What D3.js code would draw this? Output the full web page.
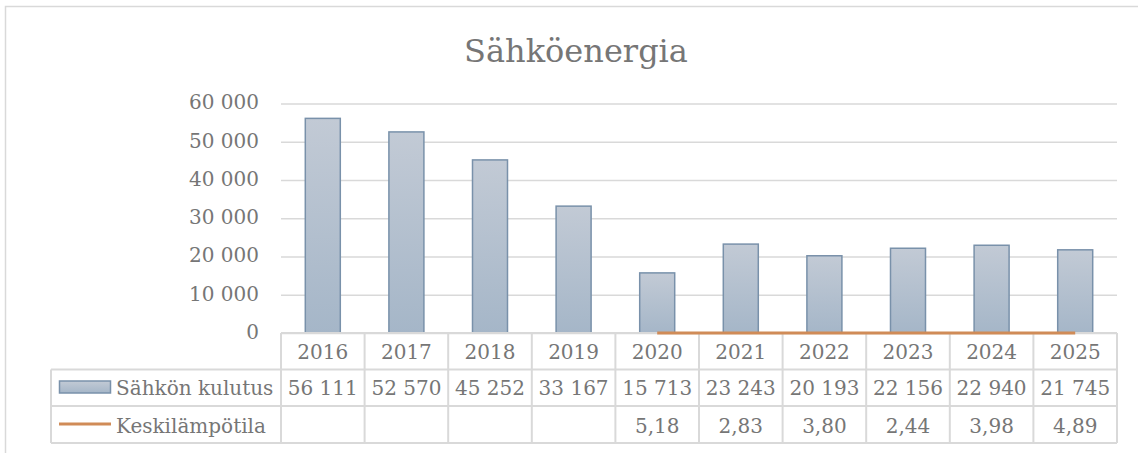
<!DOCTYPE html>
<html><head><meta charset="utf-8">
<script src="https://cdn.jsdelivr.net/npm/d3@7"></script>
<style>
html,body{margin:0;padding:0;background:#fff;}
svg{display:block;}
text{font-family:"DejaVu Serif",serif;fill:#767676;}
</style></head>
<body><svg id="c" width="1138" height="453"></svg>
<script>
const years = ["2016","2017","2018","2019","2020","2021","2022","2023","2024","2025"];
const consumption = [56111,52570,45252,33167,15713,23243,20193,22156,22940,21745];
const temperature = [null,null,null,null,5.18,2.83,3.80,2.44,3.98,4.89];
const yTicks = [0,10000,20000,30000,40000,50000,60000];
const seriesNames = ["Sähkön kulutus","Keskilämpötila"];
const title = "Sähköenergia";

(function(){
const loc = d3.formatLocale({decimal:",",thousands:"\u00a0",grouping:[3],currency:["","€"]});
const fmtInt = loc.format(",d");
const fmtDec = loc.format(".2f");

const svg = d3.select("#c");
const pL=281,pR=1117,pT=103.5,pB=333;
const rowY=[333,369.5,406,443];
const legLeft=51;
const grid="#d9d9d9";

svg.append("rect").attr("x",5.5).attr("y",6.5).attr("width",1140).attr("height",460)
  .attr("fill","none").attr("stroke",grid).attr("stroke-width",1.5);

const x = d3.scaleBand().domain(years).range([pL,pR]).paddingInner(0).paddingOuter(0);
const y = d3.scaleLinear().domain([0,60000]).range([pB,pT]);

const defs = svg.append("defs");
const g1 = defs.append("linearGradient").attr("id","bg").attr("x1",0).attr("y1",0).attr("x2",0).attr("y2",1);
g1.append("stop").attr("offset","0%").attr("stop-color","#c2cad5");
g1.append("stop").attr("offset","100%").attr("stop-color","#a5b6c8");

svg.append("text").attr("x",576).attr("y",62).attr("text-anchor","middle")
  .style("font-size","32px").text(title);

const yAxis = d3.axisLeft(y).tickValues(yTicks).tickSize(-(pR-pL)).tickFormat(d=>fmtInt(d)).tickPadding(22);
const ga = svg.append("g").attr("transform",`translate(${pL},0)`).call(yAxis);
ga.select(".domain").remove();
ga.selectAll(".tick line").attr("stroke",grid).attr("stroke-width",1.5);
ga.selectAll(".tick text").style("font-size","20px").attr("fill","#767676").style("font-family","DejaVu Serif").attr("dy","0.27em");

const bw = 35;
svg.append("g").selectAll("rect").data(consumption).join("rect")
  .attr("x",(d,i)=>x(years[i])+x.bandwidth()/2-bw/2)
  .attr("y",d=>y(d))
  .attr("width",bw)
  .attr("height",d=>y(0)-y(d))
  .attr("fill","url(#bg)").attr("stroke","#7991aa").attr("stroke-width",1.5);

const tg = svg.append("g").attr("stroke",grid).attr("stroke-width",2).attr("fill","none");
tg.append("line").attr("x1",pL).attr("x2",pR).attr("y1",rowY[0]).attr("y2",rowY[0]);
for(let r=1;r<4;r++) tg.append("line").attr("x1",legLeft).attr("x2",pR).attr("y1",rowY[r]).attr("y2",rowY[r]);
const xs = years.map(d=>x(d)).concat([pR]);
xs.forEach(v=>tg.append("line").attr("x1",v).attr("x2",v).attr("y1",rowY[0]).attr("y2",rowY[3]));
tg.append("line").attr("x1",legLeft).attr("x2",legLeft).attr("y1",rowY[1]).attr("y2",rowY[3]);

const line = d3.line().defined(d=>d!=null).x((d,i)=>x(years[i])+x.bandwidth()/2).y(d=>y(d));
svg.append("path").datum(temperature).attr("d",line).attr("fill","none")
  .attr("stroke","#d08b57").attr("stroke-width",3);

const fs="20px";
svg.append("g").selectAll("text").data(years).join("text")
  .attr("x",d=>x(d)+x.bandwidth()/2).attr("y",358.5).attr("text-anchor","middle").style("font-size",fs).text(d=>d);
svg.append("g").selectAll("text").data(consumption).join("text")
  .attr("x",(d,i)=>x(years[i])+x.bandwidth()/2).attr("y",395).attr("text-anchor","middle").style("font-size",fs).text(d=>fmtInt(d));
svg.append("g").selectAll("text").data(temperature).join("text")
  .attr("x",(d,i)=>x(years[i])+x.bandwidth()/2).attr("y",432.5).attr("text-anchor","middle").style("font-size",fs).text(d=>d==null?"":fmtDec(d));

svg.append("rect").attr("x",59.5).attr("y",381).attr("width",51).attr("height",12)
  .attr("fill","url(#bg)").attr("stroke","#7991aa").attr("stroke-width",1.5);
svg.append("line").attr("x1",59).attr("x2",111).attr("y1",424).attr("y2",424)
  .attr("stroke","#d08b57").attr("stroke-width",3);
svg.append("text").attr("x",116).attr("y",395).style("font-size",fs).text(seriesNames[0]);
svg.append("text").attr("x",116).attr("y",432.5).style("font-size",fs).text(seriesNames[1]);
})();
</script></body></html>
